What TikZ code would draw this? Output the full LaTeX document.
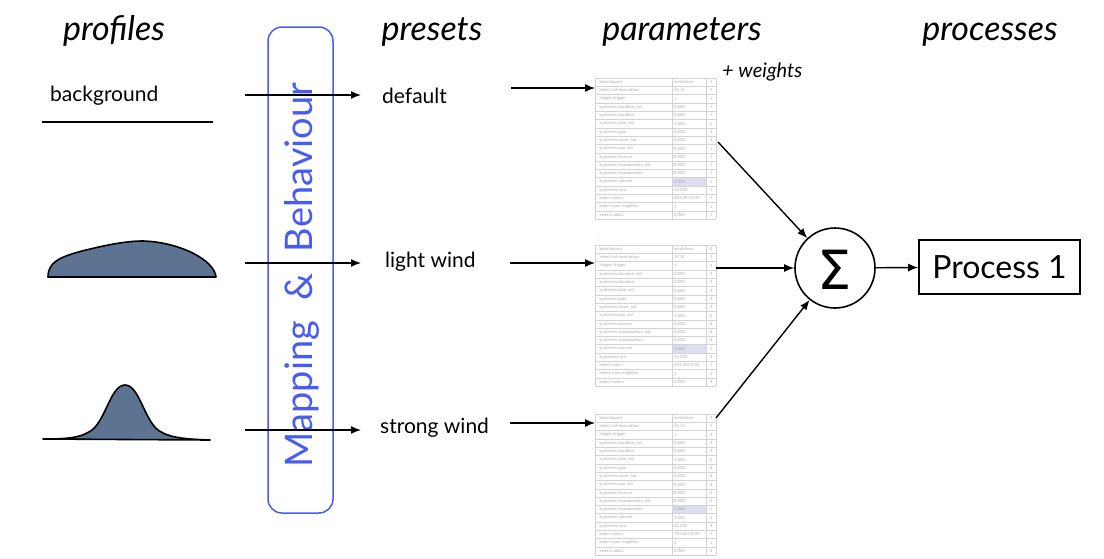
\documentclass[tikz,border=0pt]{standalone}
\usepackage{fontspec}
\setmainfont{Lato}
\newfontfamily\dejavu{DejaVu Sans}
\usetikzlibrary{arrows.meta,calc}
\definecolor{profilefill}{RGB}{92,116,145}
\definecolor{mapblue}{RGB}{72,92,240}
\definecolor{hlcell}{RGB}{222,222,238}
\tikzset{
  arr/.style={line width=1.4pt,-{Latex[length=10pt,width=8pt]}},
  head/.style={font=\fontsize{34}{36}\selectfont\itshape,anchor=base},
  preset/.style={font=\fontsize{21}{24}\selectfont,anchor=west,inner sep=0pt},
  tablebox/.style={minimum width=121pt,minimum height=148pt,inner sep=0pt,draw=none},
  tgrid/.style={draw=gray!35,line width=0.4pt},
  ttext/.style={font=\fontsize{4.2}{5}\selectfont,text=gray!65,inner sep=0pt},
  profile/.style={fill=profilefill,draw=black,line width=1.6pt,line join=round},
}
% #1 name, #2 x (left), #3 y (top), #4 highlighted row, #5 rows
\newcommand\ptable[5]{%
  \node[tablebox,anchor=north west] (#1) at (#2,#3) {};
  \fill[white] (#2,#3) rectangle ++(121,148);
  \fill[hlcell] (#2+77,#3+8+#4*8.3-8.3) rectangle ++(34,8.3);
  \foreach \n/\v/\f [count=\i] in {#5}{
    \draw[tgrid] (#2,#3+8+\i*8.3-8.3) -- ++(121,0);
    \node[ttext,anchor=west] (#1n\i) at (#2+3,#3+8+\i*8.3-4.15) {\n};
    \node[ttext,anchor=west] (#1v\i) at (#2+79,#3+8+\i*8.3-4.15) {\v};
    \node[ttext] (#1f\i) at (#2+116,#3+8+\i*8.3-4.15) {\f};
  }
  \draw[tgrid] (#2,#3+8+17*8.3) -- ++(121,0);
  \draw[tgrid] (#2,#3+8) -- ++(0,141.1);
  \draw[tgrid] (#2+77,#3+8) -- ++(0,141.1);
  \draw[tgrid] (#2+111,#3+8) -- ++(0,141.1);
  \draw[tgrid] (#2+121,#3+8) -- ++(0,141.1);
  \node[ttext] (#1h) at (#2+4,#3+4) {,};
}
\begin{document}
\begin{tikzpicture}[x=1pt,y=-1pt]
\useasboundingbox (0,0) rectangle (1104,558);
% headers
\node[head] (hprof) at (114,40) {profiles};
\node[head] (hpres) at (432,40) {presets};
\node[head] (hpar) at (682,40) {parameters};
\node[head] (hproc) at (990,40) {processes};

% profiles
\node[font=\fontsize{21}{24}\selectfont,inner sep=0pt,anchor=west] (bg) at (50,96) {background};
\draw[line width=1.6pt] (42,122) -- (213,122);
\draw[profile] (48,277) .. controls (48,262) and (60,257) .. (82,251)
  .. controls (110,244) and (128,241) .. (143,241)
  .. controls (178,242) and (214,259) .. (216,277) -- cycle;
\draw[profile] (43,439) .. controls (72,439) and (82,437) .. (92,430)
  .. controls (106,419) and (111,385) .. (125,385)
  .. controls (139,385) and (144,419) .. (158,430)
  .. controls (168,437) and (180,439) .. (210,440) -- cycle;

% mapping box
\node[draw=mapblue,line width=1.5pt,rounded corners=14pt,minimum width=65pt,minimum height=486pt,inner sep=0pt] (mapbox) at (300.5,270) {};
\node[rotate=90,text=mapblue,font=\fontsize{38}{42}\selectfont,inner sep=0pt] (maptext) at (302,275) {Mapping\hspace{0.55em}\&\hspace{0.55em}Behaviour};

% presets
\node[preset] (pdef) at (382,96) {default};
\node[preset] (plight) at (385,262) {light wind};
\node[preset] (pstrong) at (380,428) {strong wind};

\coordinate (i1) at (245,95);  \coordinate (o1) at (361,95);
\coordinate (i2) at (245,263); \coordinate (o2) at (361,263);
\coordinate (i3) at (245,430); \coordinate (o3) at (361,430);
\draw[arr] (i1) -- (o1);
\draw[arr] (i2) -- (o2);
\draw[arr] (i3) -- (o3);

% tables
\ptable{tA}{595}{70}{13}{{/data/import}/wind.descr/1,{/select/sel-descriptors}/10 11/1,{/trigger/trigger}/1/1,{/synthesis/duration\_std}/0.000/1,{/synthesis/duration}/0.000/1,{/synthesis/gain\_std}/0.000/1,{/synthesis/gain}/0.000/1,{/synthesis/onset\_std}/0.000/1,{/synthesis/pan\_std}/0.000/1,{/synthesis/reverse}/0.000/1,{/synthesis/transposition\_std}/0.000/1,{/synthesis/transposition}/0.000/1,{/synthesis/volume}/0.000/1,{/synthesis/rate}/10.000/1,{/select/select}/281.293 0.00/1,{/select/num-neighbor}/1/1,{/select/radius}/0.000/1}
\ptable{tB}{595}{237}{13}{{/data/import}/wind.descr/0,{/select/sel-descriptors}/10 11/1,{/trigger/trigger}/1/0,{/synthesis/duration\_std}/0.000/0,{/synthesis/duration}/0.000/0,{/synthesis/gain\_std}/0.000/0,{/synthesis/gain}/0.000/0,{/synthesis/onset\_std}/0.000/0,{/synthesis/pan\_std}/0.000/0,{/synthesis/reverse}/0.000/0,{/synthesis/transposition\_std}/0.000/0,{/synthesis/transposition}/0.000/0,{/synthesis/volume}/1.000/1,{/synthesis/rate}/10.000/0,{/select/select}/301.403 0.00/1,{/select/num-neighbor}/5/0,{/select/radius}/0.000/0}
\ptable{tC}{595}{406}{12}{{/data/import}/wind.descr/0,{/select/sel-descriptors}/10 13/1,{/trigger/trigger}/1/0,{/synthesis/duration\_std}/0.000/0,{/synthesis/duration}/0.000/0,{/synthesis/gain\_std}/0.000/0,{/synthesis/gain}/0.000/0,{/synthesis/onset\_std}/0.000/0,{/synthesis/pan\_std}/0.000/0,{/synthesis/reverse}/0.000/0,{/synthesis/transposition\_std}/0.000/0,{/synthesis/transposition}/1.000/1,{/synthesis/volume}/1.000/1,{/synthesis/rate}/10.000/0,{/select/select}/315.637 0.00/1,{/select/num-neighbor}/2/1,{/select/radius}/0.000/0}

\coordinate (a1) at (511,88);
\coordinate (a2) at (510,263);
\coordinate (a3) at (510,423);
\draw[arr] (a1) -- (tA.west |- a1);
\draw[arr] (a2) -- (tB.west |- a2);
\draw[arr] (a3) -- (tC.west |- a3);

\node[font=\fontsize{20}{22}\selectfont\itshape,anchor=west,inner sep=0pt] (wts) at (722,72) {+ weights};

% sum
\node[circle,draw,line width=1.6pt,minimum size=80pt,inner sep=0pt] (sig) at (835,268) {};
\node[font=\dejavu\fontsize{54}{58}\selectfont,inner sep=0pt] (sigtxt) at (835,270) {Σ};
\coordinate (s1) at (718,142);
\coordinate (s2) at (716,268);
\coordinate (s3) at (716,418);
\draw[arr] (s1) -- (sig);
\draw[arr] (s2) -- (sig);
\draw[arr] (s3) -- (sig);

\node[draw,line width=1.6pt,minimum width=161pt,minimum height=54pt,inner sep=0pt,font=\fontsize{32}{36}\selectfont] (proc) at (999.5,267) {Process 1};
\draw[arr] (sig) -- (proc);
\end{tikzpicture}
\end{document}
